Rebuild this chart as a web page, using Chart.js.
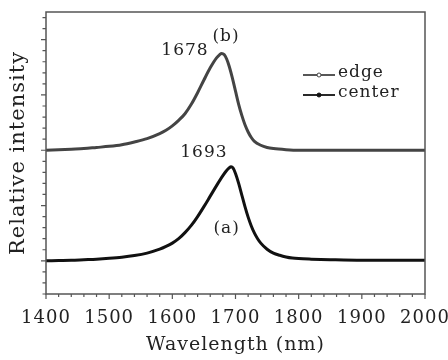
<!DOCTYPE html>
<html lang="en">
<head>
<meta charset="UTF-8">
<title>Relative intensity</title>
<script src="https://cdn.jsdelivr.net/npm/chart.js@4.4.0/dist/chart.umd.min.js"></script>
<style>
  html, body { margin: 0; padding: 0; background: #fff; }
</style>
</head>
<body>
<canvas id="chart" width="448" height="360"></canvas>
<script>
// spectra (wavelength in nm, relative intensity)
const edgeWl = [1400, 1420, 1440, 1460, 1480, 1500, 1520, 1540, 1560, 1580,
  1590, 1600, 1610, 1620, 1630, 1640, 1650, 1660, 1670,
  1675, 1678, 1682, 1686, 1690, 1695,
  1700, 1705, 1710, 1715, 1720, 1725, 1730,
  1740, 1750, 1760, 1780, 1800, 1850, 1900, 1950, 2000];
const edgeVal = [2.00, 2.01, 2.02, 2.03, 2.05, 2.07, 2.10, 2.15, 2.21, 2.30,
  2.36, 2.44, 2.54, 2.66, 2.83, 3.04, 3.27, 3.49, 3.67,
  3.73, 3.75, 3.73, 3.65, 3.52, 3.31,
  3.07, 2.83, 2.63, 2.46, 2.33, 2.23, 2.16,
  2.09, 2.05, 2.03, 2.01, 2.00, 2.00, 2.00, 2.00, 2.00];

const centerWl = [1400, 1420, 1440, 1460, 1480, 1500, 1520, 1540, 1560, 1580,
  1590, 1600, 1610, 1620, 1630, 1640, 1650, 1660, 1670, 1680,
  1685, 1690, 1693, 1696,
  1700, 1705, 1710, 1715, 1720, 1725, 1730, 1735, 1740,
  1750, 1760, 1770, 1780, 1790, 1800,
  1820, 1850, 1900, 1950, 2000];
const centerVal = [0.00, 0.005, 0.01, 0.02, 0.03, 0.045, 0.065, 0.095, 0.14, 0.21,
  0.26, 0.32, 0.40, 0.51, 0.64, 0.80, 0.98, 1.17, 1.36, 1.54,
  1.62, 1.68, 1.70, 1.68,
  1.58, 1.40, 1.19, 0.98, 0.79, 0.63, 0.50, 0.40, 0.32,
  0.21, 0.14, 0.10, 0.07, 0.05, 0.04,
  0.03, 0.02, 0.01, 0.01, 0.01];

const seriesNames = ['edge', 'center'];

// peak notes, placed in data units
const noteText = ['1678', '(b)', '1693', '(a)'];
const noteX = [1620, 1685, 1650, 1686];
const noteY = [3.80, 4.05, 1.96, 0.59];

const FONT = 'DejaVu Serif';
Chart.defaults.font.family = FONT;
Chart.defaults.color = '#222';

// the original lettering is spaced a bit wider
const spacing = {
  id: 'spacing',
  beforeLayout(chart) { chart.ctx.letterSpacing = '1px'; },
  beforeDraw(chart) { chart.ctx.letterSpacing = '1px'; }
};

// box, tick marks, legend and peak notes
const extras = {
  id: 'extras',
  afterDraw(chart) {
    const { ctx, chartArea: a, scales: { x, y } } = chart;
    ctx.save();
    ctx.strokeStyle = '#555';
    ctx.lineWidth = 1.5;
    ctx.strokeRect(a.left, a.top, a.right - a.left, a.bottom - a.top);

    ctx.lineWidth = 1.2;
    ctx.beginPath();
    for (let i = 0; i <= 30; i++) {
      const px = x.getPixelForValue(1400 + i * 20);
      const len = i % 5 === 0 ? 5 : 3;
      ctx.moveTo(px, a.bottom);
      ctx.lineTo(px, a.bottom + len);
    }
    for (let i = -3; i <= 22; i++) {
      const py = y.getPixelForValue(i * 0.2);
      const len = i % 5 === 0 ? 5 : 3.5;
      ctx.moveTo(a.left - len, py);
      ctx.lineTo(a.left, py);
    }
    ctx.stroke();

    // legend
    ctx.font = '17px "' + FONT + '"';
    ctx.textBaseline = 'middle';
    ctx.textAlign = 'left';
    chart.data.datasets.forEach((ds, i) => {
      const lx = a.right - 122;
      const ly = a.top + 63 + i * 20;
      ctx.strokeStyle = ds.borderColor;
      ctx.lineWidth = 1.8;
      ctx.beginPath();
      ctx.moveTo(lx, ly);
      ctx.lineTo(lx + 32, ly);
      ctx.stroke();
      ctx.beginPath();
      ctx.arc(lx + 16, ly, 2, 0, Math.PI * 2);
      ctx.fillStyle = i === 0 ? '#fff' : '#111';
      ctx.fill();
      ctx.lineWidth = 1;
      ctx.stroke();
      ctx.fillStyle = '#222';
      ctx.fillText(ds.label, lx + 35, ly - 2);
    });

    // notes
    ctx.textAlign = 'center';
    noteText.forEach((t, i) => {
      ctx.fillText(t, x.getPixelForValue(noteX[i]), y.getPixelForValue(noteY[i]));
    });
    ctx.restore();
  }
};

new Chart(document.getElementById('chart'), {
  type: 'line',
  data: {
    datasets: [
      {
        label: seriesNames[0],
        data: edgeWl.map((w, i) => ({ x: w, y: edgeVal[i] })),
        borderColor: '#444',
        borderWidth: 3,
        pointRadius: 0,
        cubicInterpolationMode: 'monotone'
      },
      {
        label: seriesNames[1],
        data: centerWl.map((w, i) => ({ x: w, y: centerVal[i] })),
        borderColor: '#111',
        borderWidth: 3,
        pointRadius: 0,
        cubicInterpolationMode: 'monotone'
      }
    ]
  },
  options: {
    responsive: false,
    animation: false,
    devicePixelRatio: 1,
    layout: { padding: { top: 12, right: 23, left: 0, bottom: 0 } },
    plugins: { legend: { display: false }, tooltip: { enabled: false } },
    scales: {
      x: {
        type: 'linear',
        min: 1400,
        max: 2000,
        grid: { display: false },
        border: { display: false },
        ticks: {
          stepSize: 100,
          padding: 6,
          font: { size: 18 },
          color: '#222',
          maxRotation: 0,
          callback: v => String(v)
        },
        title: {
          display: true,
          text: 'Wavelength (nm)',
          font: { size: 19 },
          color: '#222',
          padding: { top: 0, bottom: 4 }
        },
        afterFit: s => { s.height = 66; s.paddingLeft = 0; s.paddingRight = 0; }
      },
      y: {
        min: -0.6,
        max: 4.5,
        grid: { display: false },
        border: { display: false },
        ticks: { display: false },
        title: {
          display: true,
          text: 'Relative intensity',
          font: { size: 21 },
          color: '#222',
          padding: { top: 6, bottom: 0 }
        },
        afterFit: s => { s.width = 46; }
      }
    }
  },
  plugins: [spacing, extras]
});
</script>
</body>
</html>
